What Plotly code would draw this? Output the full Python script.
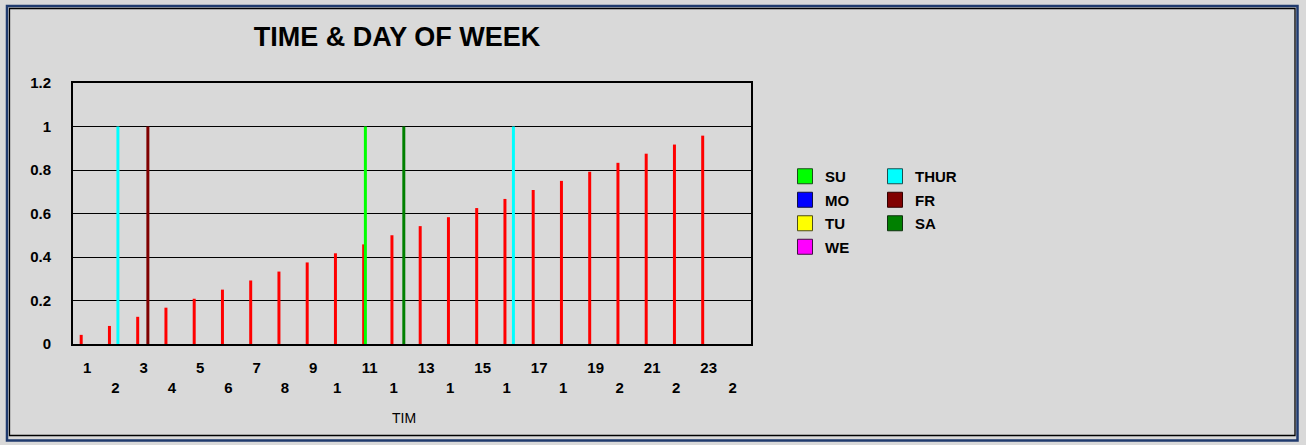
import plotly.graph_objects as go

# ---------------- data ----------------
CATEGORIES = ["1", "2", "3", "4", "5", "6", "7", "8", "9", "10", "11", "12",
              "13", "14", "15", "16", "17", "18", "19", "20", "21", "22", "23", "24"]
TICK_LABELS = ["1", "2", "3", "4", "5", "6", "7", "8", "9", "1", "11", "1",
               "13", "1", "15", "1", "17", "1", "19", "2", "21", "2", "23", "2"]

TIME = [0.042, 0.083, 0.125, 0.167, 0.208, 0.25, 0.292, 0.333, 0.375, 0.417, 0.458, 0.5,
        0.542, 0.583, 0.625, 0.667, 0.708, 0.75, 0.792, 0.833, 0.875, 0.917, 0.958, None]
SU = [None, None, None, None, None, None, None, None, None, None, 1, None,
      None, None, None, None, None, None, None, None, None, None, None, None]
MO = [None] * 24
TU = [None] * 24
WE = [None] * 24
THUR = [None, 1, None, None, None, None, None, None, None, None, None, None,
        None, None, None, 1, None, None, None, None, None, None, None, None]
FR = [None, None, 1, None, None, None, None, None, None, None, None, None,
      None, None, None, None, None, None, None, None, None, None, None, None]
SA = [None, None, None, None, None, None, None, None, None, None, None, 1,
      None, None, None, None, None, None, None, None, None, None, None, None]

SERIES_NAMES = ["TIME", "SU", "MO", "TU", "WE", "THUR", "FR", "SA"]
SERIES_VALUES = [TIME, SU, MO, TU, WE, THUR, FR, SA]
SERIES_COLORS = ["#FF0000", "#00FF00", "#0000FF", "#FFFF00", "#FF00FF", "#00FFFF", "#800000", "#008000"]
LEGEND_BORDERS = [None, "#1a4d1a", "#101040", "#4d4d1a", "#401040", "#1a5050", "#300000", "#103010"]

# ---------------- layout geometry (pixels) ----------------
W, H = 1306, 445
PL, PR, PT, PB = 73, 751, 83, 344   # plot area


def px_x(p):
    return (p - PL) / (PR - PL)


def px_y(p):
    return (PB - p) / (PB - PT)


FONT = "Arial, Liberation Sans, sans-serif"
BG = "#D9D9D9"

fig = go.Figure()

slot = 0.06
bw = 0.106
for i, (name, vals, col) in enumerate(zip(SERIES_NAMES, SERIES_VALUES, SERIES_COLORS)):
    fig.add_trace(go.Bar(
        x=CATEGORIES, y=vals, name=name,
        marker=dict(color=col, line=dict(width=0)),
        width=bw, offset=(i - 3.5) * slot - bw / 2,
        showlegend=False, hoverinfo="skip",
    ))

# legend entries (SU..WE in first column, THUR..SA in second)
for i, (name, col, bcol) in enumerate(zip(SERIES_NAMES, SERIES_COLORS, LEGEND_BORDERS)):
    if i == 0:
        continue
    fig.add_trace(go.Scatter(
        x=[None], y=[None], mode="markers", name=name,
        marker=dict(symbol="square", size=15, color=col, line=dict(color=bcol, width=1)),
        legend="legend" if i <= 4 else "legend2",
        legendgroup=name,
        showlegend=True,
    ))


def fmt_tick(k, t):
    # odd categories on the first row, even ones on the second row;
    # truncated labels keep the left position of the original two-digit text
    lab = t if len(t) == len(CATEGORIES[k]) else t + "\u2007"
    return lab if k % 2 == 0 else "&#160;<br>" + lab


ticktext = [fmt_tick(k, t) for k, t in enumerate(TICK_LABELS)]

legend_common = dict(
    bgcolor="rgba(0,0,0,0)", borderwidth=0,
    font=dict(family=FONT, size=15, color="#000000", weight="bold"),
    tracegroupgap=1, xref="container", yref="container",
    xanchor="left", yanchor="top", itemclick=False, itemdoubleclick=False,
)

fig.update_layout(
    width=W, height=H,
    margin=dict(l=PL, r=W - PR, t=PT, b=H - PB, pad=0),
    paper_bgcolor=BG, plot_bgcolor=BG,
    barmode="overlay",
    title=dict(text="<b>TIME & DAY OF WEEK</b>", x=397 / W, y=1 - 37 / H,
               xref="container", yref="container", xanchor="center", yanchor="middle",
               font=dict(family=FONT, size=27, color="#000000")),
    xaxis=dict(type="category", categoryorder="array", categoryarray=CATEGORIES,
               range=[-0.5, 23.5], tickmode="array", tickvals=CATEGORIES, ticktext=ticktext,
               showgrid=False, ticks="", showline=True, mirror=True,
               linecolor="#000000", linewidth=2, ticklabelstandoff=9,
               tickfont=dict(family=FONT, size=15, color="#000000", weight="bold")),
    yaxis=dict(range=[0, 1.2], dtick=0.2, tick0=0, showgrid=True, gridcolor="#000000",
               gridwidth=1, zeroline=False, showline=True, mirror=True,
               linecolor="#000000", linewidth=2, ticks="", ticklabelstandoff=17,
               tickfont=dict(family=FONT, size=15, color="#000000", weight="bold")),
    legend=dict(x=785 / W, y=1 - 160 / H, **legend_common),
    legend2=dict(x=875 / W, y=1 - 160 / H, **legend_common),
    annotations=[dict(text="TIM", x=px_x(404), y=px_y(418), xref="paper", yref="paper",
                      showarrow=False, xanchor="center", yanchor="middle",
                      font=dict(family=FONT, size=14, color="#000000"))],
    shapes=[
        dict(type="rect", xref="paper", yref="paper", layer="below",
             x0=px_x(7), x1=px_x(1297.5), y0=px_y(6), y1=px_y(440.5),
             line=dict(color="#1F3A6E", width=2.5), fillcolor="rgba(0,0,0,0)"),
        dict(type="rect", xref="paper", yref="paper", layer="below",
             x0=px_x(9.5), x1=px_x(1295), y0=px_y(8.5), y1=px_y(435.5),
             line=dict(color="#000000", width=1.3), fillcolor="rgba(0,0,0,0)"),
    ],
)

fig.write_html("out.html", config={"displayModeBar": False},
               post_script="document.body.style.margin='0';document.body.style.overflow='hidden';")
